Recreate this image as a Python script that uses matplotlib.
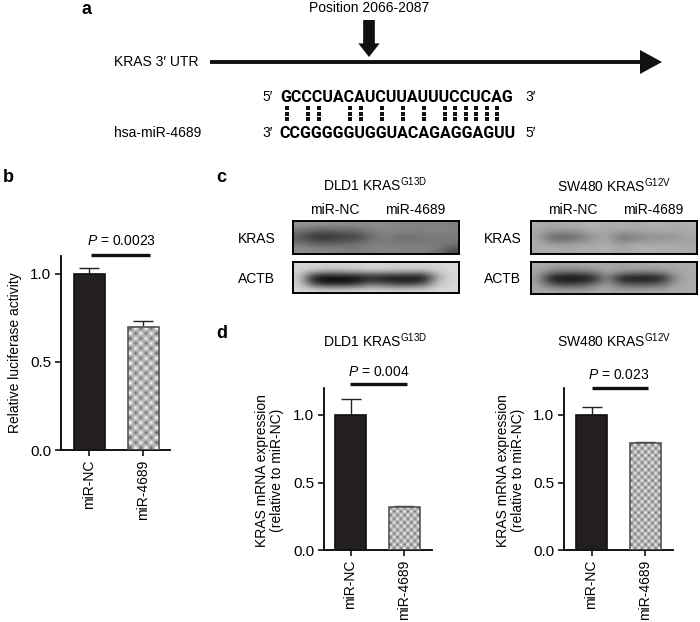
import matplotlib
matplotlib.use("Agg")
import matplotlib.pyplot as plt
import numpy as np

plt.rcParams['font.family'] = ['Liberation Sans', 'DejaVu Sans']
plt.rcParams['mathtext.fontset'] = 'custom'
plt.rcParams['mathtext.rm'] = 'Liberation Sans'
plt.rcParams['mathtext.it'] = 'Liberation Sans:italic'
plt.rcParams['font.size'] = 10

W, H = 700, 622
groups = ['miR-NC', 'miR-4689']
luc_vals = [1.0, 0.70]
luc_err = [0.032, 0.03]
dld_vals = [1.0, 0.32]
dld_err = [0.12, 0.005]
sw_vals = [1.0, 0.79]
sw_err = [0.06, 0.008]
yticks = [0.0, 0.5, 1.0]

seq_top = "GCCCUACAUCUUAUUUCCUCAG"
seq_bot = "CCGGGGGUGGUACAGAGGAGUU"
paired = [0, 2, 3, 6, 7, 9, 11, 13, 15, 16, 17, 18, 19, 20]

# rough grey levels of the blots, read by eye (0 black, 255 white)
blot_dld_kras = [[150, 150, 148, 145, 140, 140, 140, 135, 130, 130, 130, 125],
                 [120, 95, 90, 100, 105, 125, 135, 135, 130, 130, 135, 130],
                 [85, 45, 40, 60, 55, 100, 125, 110, 105, 115, 120, 120],
                 [125, 105, 100, 110, 115, 125, 130, 125, 125, 125, 125, 115],
                 [145, 140, 140, 130, 125, 130, 135, 130, 130, 130, 115, 70]]
blot_dld_actb = [[215, 215, 210, 215, 210, 215, 215, 210, 215, 215, 215, 215],
                 [210, 200, 185, 190, 195, 205, 205, 200, 195, 195, 210, 215],
                 [205, 5, 0, 0, 5, 20, 10, 10, 10, 5, 175, 215],
                 [210, 60, 20, 25, 30, 100, 80, 50, 50, 80, 205, 215],
                 [215, 215, 210, 210, 215, 215, 215, 210, 215, 215, 215, 215]]
blot_sw_kras = [[175, 165, 180, 170, 185, 170, 180, 165, 180, 175, 170, 180],
                [170, 150, 150, 160, 170, 165, 165, 170, 160, 175, 165, 170],
                [165, 95, 90, 105, 150, 170, 105, 120, 145, 135, 150, 165],
                [175, 155, 160, 170, 165, 175, 155, 170, 165, 175, 170, 165],
                [170, 180, 165, 175, 170, 180, 165, 175, 180, 170, 175, 170]]
blot_sw_actb = [[170, 170, 165, 170, 170, 170, 165, 170, 170, 170, 170, 170],
                [165, 130, 115, 120, 135, 165, 155, 145, 140, 150, 165, 170],
                [160, 5, 0, 0, 15, 145, 10, 5, 5, 20, 150, 170],
                [165, 90, 70, 80, 110, 165, 100, 90, 90, 110, 165, 170],
                [170, 170, 165, 165, 170, 170, 165, 170, 170, 170, 170, 170]]

fig = plt.figure(figsize=(W / 100, H / 100), dpi=100)
bg = fig.add_axes([0, 0, 1, 1])
bg.set_xlim(0, W)
bg.set_ylim(H, 0)
bg.axis('off')


def txt(x, y, s, **kw):
    kw.setdefault('ha', 'left')
    kw.setdefault('va', 'center')
    return bg.text(x, y, s, **kw)


def bar_panel(left, right, top, bottom, centers, bw, ymax, vals, errs, ylabel, p_text, p_x, p_y0, p_x0, p_x1, p_bar_y,
              cell=3.5, labelx=-0.3):
    ax = fig.add_axes([left / W, 1 - bottom / H, (right - left) / W, (bottom - top) / H])
    unit = centers[1] - centers[0]
    x = np.arange(len(vals))
    width = bw / unit
    bars = ax.bar(x, vals, width, color=['#231f20', 'white'], edgecolor=['#111111', '#555555'],
                  linewidth=1.2, zorder=3)
    ax.errorbar(x, vals, yerr=[[0, 0], errs], fmt='none', ecolor='#222222', elinewidth=1, capsize=7,
                capthick=1, zorder=2)
    # checker fill for the second bar
    nx = int(round(bw / cell))
    ny = int(round(vals[1] / ymax * (bottom - top) / cell))
    yy, xx = np.indices((ny, nx))
    im = ax.imshow((xx + yy) % 2, cmap='gray', vmin=-0.7, vmax=1, interpolation='bilinear', aspect='auto',
                   extent=(x[1] - width / 2, x[1] + width / 2, 0, vals[1]), zorder=2.5)
    im.set_clip_path(bars[1])
    bars[1].set_facecolor('none')
    ax.set_xlim((left - centers[0]) / unit, (right - centers[0]) / unit)
    ax.set_ylim(0, ymax)
    ax.set_xticks(x)
    ax.set_xticklabels(groups, rotation=90, fontsize=10)
    ax.set_yticks(yticks)
    ax.set_yticklabels(['%.1f' % t for t in yticks], fontsize=11)
    ax.tick_params(length=4, width=1.1, pad=3)
    ax.patch.set_alpha(0)
    for s in ['top', 'right']:
        ax.spines[s].set_visible(False)
    for s in ['left', 'bottom']:
        ax.spines[s].set_linewidth(1.3)
    ax.set_ylabel(ylabel, fontsize=10, linespacing=1.1)
    ax.yaxis.set_label_coords(labelx, 0.5 if '\n' not in ylabel else 0.49)
    txt(p_x, p_y0, p_text, ha='center', fontsize=10)
    bg.plot([p_x0, p_x1], [p_bar_y, p_bar_y], color='#111111', lw=2.4, solid_capstyle='butt')


def blot(x0, x1, y0, y1, grid):
    ax = fig.add_axes([x0 / W, 1 - y1 / H, (x1 - x0) / W, (y1 - y0) / H])
    ax.imshow(grid, cmap='gray', vmin=0, vmax=255, interpolation='bicubic', aspect='auto')
    ax.set_xticks([])
    ax.set_yticks([])
    for s in ax.spines.values():
        s.set_linewidth(1.4)


# panel letters
for x, y, s in [(81, 9, 'a'), (3, 178, 'b'), (216, 178, 'c'), (216, 334, 'd')]:
    txt(x, y, s, fontsize=13, fontweight='bold')

# panel a
txt(369, 8, 'Position 2066-2087', ha='center', fontsize=10)
bg.annotate('', xy=(369, 57), xytext=(369, 20),
            arrowprops=dict(arrowstyle='simple,head_width=1.1,head_length=0.7,tail_width=0.6',
                            color='#111111', lw=0, shrinkA=0, shrinkB=0, mutation_scale=14))
bg.plot([210, 642], [62, 62], color='#111111', lw=2.8, solid_capstyle='butt')
bg.fill([640, 662, 640], [50, 62, 74], color='#111111', lw=0)
txt(114, 62, 'KRAS 3\u2032 UTR', fontsize=10)
txt(114, 133, 'hsa-miR-4689', fontsize=10)
txt(262, 97, '5\u2032', fontsize=10)
txt(525, 97, '3\u2032', fontsize=10)
txt(262, 133, '3\u2032', fontsize=10)
txt(525, 133, '5\u2032', fontsize=10)
txt(397, 97, seq_top, ha='center', fontsize=11.5, fontweight='bold', family='Roboto')
txt(397, 133, seq_bot, ha='center', fontsize=11.5, fontweight='bold', family='Roboto')
dot_x = 287 + 10.5 * np.array(paired)
for dy in [108, 113.5, 119]:
    bg.plot(dot_x, np.full(len(dot_x), dy), ls='none', marker='s', ms=2.4, mew=0, color='#111111')

# panel b
bar_panel(61, 170, 256, 450, [89, 143], 31, 1.10, luc_vals, luc_err, 'Relative luciferase activity',
          '$\\mathit{P}$ = 0.0023', 121, 241, 91, 150, 254.5, cell=5, labelx=-0.36)

# panel c
txt(375, 185, 'DLD1 KRAS$^{\\mathrm{G13D}}$', ha='center', fontsize=10)
txt(614, 186, 'SW480 KRAS$^{\\mathrm{G12V}}$', ha='center', fontsize=10)
for x, s in [(335, groups[0]), (415, groups[1]), (573, groups[0]), (653, groups[1])]:
    txt(x, 210, s, ha='center', fontsize=10)
blot(293, 459, 221, 254, blot_dld_kras)
blot(293, 459, 262, 293, blot_dld_actb)
blot(531, 697, 221, 254, blot_sw_kras)
blot(531, 697, 262, 294, blot_sw_actb)
for x in [238, 484]:
    txt(x, 239, 'KRAS', fontsize=10)
    txt(x, 279, 'ACTB', fontsize=10)

# panel d
ylab = 'KRAS mRNA expression\n(relative to miR-NC)'
txt(375, 341, 'DLD1 KRAS$^{\\mathrm{G13D}}$', ha='center', fontsize=10)
txt(614, 341, 'SW480 KRAS$^{\\mathrm{G12V}}$', ha='center', fontsize=10)
bar_panel(324, 432, 388, 550, [350.5, 404], 31, 1.2, dld_vals, dld_err, ylab,
          '$\\mathit{P}$ = 0.004', 379, 372, 350, 407, 384, labelx=-0.37)
bar_panel(564, 673, 388, 550, [591.5, 645], 31, 1.2, sw_vals, sw_err, ylab,
          '$\\mathit{P}$ = 0.023', 619, 375, 592, 648, 388, labelx=-0.36)

fig.savefig('out.png', dpi=100)
